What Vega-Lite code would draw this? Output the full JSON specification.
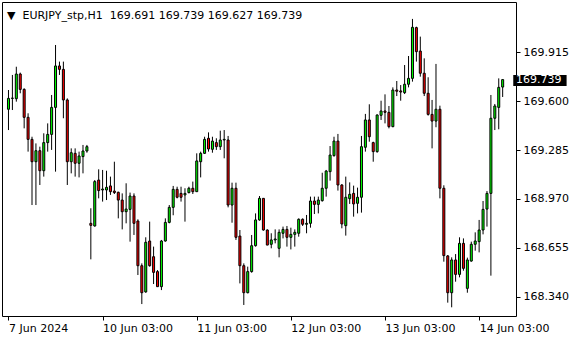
{
  "$schema": "https://vega.github.io/schema/vega-lite/v6.json",
  "width": 514,
  "height": 314,
  "autosize": {"type": "none"},
  "padding": {"left": 2, "top": 2, "right": 64, "bottom": 24},
  "background": "white",
  "config": {
    "view": {"stroke": "black", "strokeWidth": 1},
    "font": "DejaVu Sans",
    "axis": {"labelFont": "DejaVu Sans", "labelFontSize": 11, "labelColor": "black", "tickColor": "black", "domain": false, "grid": false, "labelOverlap": false, "labelFlush": false, "labelBound": false}
  },
  "title": {
    "text": "▼ \u00a0EURJPY_stp,H1 \u00a0169.691 169.739 169.627 169.739",
    "anchor": "start",
    "frame": "group",
    "orient": "top",
    "baseline": "alphabetic",
    "offset": -15,
    "dy": 13,
    "dx": 5,
    "font": "DejaVu Sans",
    "fontSize": 11,
    "fontWeight": "normal",
    "color": "black"
  },
  "data": {
    "values": [
      {"i":0,"o":169.548,"h":169.672,"l":169.414,"c":169.618},
      {"i":1,"o":169.618,"h":169.769,"l":169.543,"c":169.620},
      {"i":2,"o":169.616,"h":169.822,"l":169.597,"c":169.775},
      {"i":3,"o":169.775,"h":169.784,"l":169.651,"c":169.676},
      {"i":4,"o":169.676,"h":169.683,"l":169.425,"c":169.496},
      {"i":5,"o":169.496,"h":169.522,"l":169.275,"c":169.354},
      {"i":6,"o":169.354,"h":169.371,"l":168.931,"c":169.210},
      {"i":7,"o":169.210,"h":169.328,"l":168.931,"c":169.281},
      {"i":8,"o":169.281,"h":169.307,"l":169.060,"c":169.152},
      {"i":9,"o":169.152,"h":169.393,"l":169.114,"c":169.333},
      {"i":10,"o":169.333,"h":169.457,"l":169.275,"c":169.386},
      {"i":11,"o":169.386,"h":169.640,"l":169.286,"c":169.560},
      {"i":12,"o":169.560,"h":169.962,"l":169.146,"c":169.827},
      {"i":13,"o":169.827,"h":169.855,"l":169.769,"c":169.805},
      {"i":14,"o":169.805,"h":169.855,"l":169.490,"c":169.608},
      {"i":15,"o":169.608,"h":169.618,"l":169.060,"c":169.210},
      {"i":16,"o":169.210,"h":169.296,"l":169.135,"c":169.268},
      {"i":17,"o":169.264,"h":169.296,"l":169.114,"c":169.200},
      {"i":18,"o":169.200,"h":169.275,"l":169.109,"c":169.247},
      {"i":19,"o":169.243,"h":169.318,"l":169.135,"c":169.279},
      {"i":20,"o":169.279,"h":169.318,"l":169.268,"c":169.307},
      {"i":21,"o":168.813,"h":168.910,"l":168.581,"c":168.800},
      {"i":22,"o":168.796,"h":169.092,"l":168.792,"c":169.082},
      {"i":23,"o":169.092,"h":169.161,"l":168.974,"c":169.024},
      {"i":24,"o":169.028,"h":169.157,"l":168.953,"c":169.034},
      {"i":25,"o":169.028,"h":169.152,"l":168.963,"c":169.045},
      {"i":26,"o":169.054,"h":169.114,"l":168.996,"c":169.017},
      {"i":27,"o":169.021,"h":169.210,"l":169.002,"c":169.011},
      {"i":28,"o":169.013,"h":169.017,"l":168.845,"c":168.963},
      {"i":29,"o":168.963,"h":169.006,"l":168.774,"c":168.888},
      {"i":30,"o":168.888,"h":169.071,"l":168.813,"c":168.905},
      {"i":31,"o":168.903,"h":169.011,"l":168.695,"c":168.989},
      {"i":32,"o":168.989,"h":169.006,"l":168.738,"c":168.813},
      {"i":33,"o":168.828,"h":168.839,"l":168.480,"c":168.540},
      {"i":34,"o":168.540,"h":168.555,"l":168.293,"c":168.366},
      {"i":35,"o":168.371,"h":168.723,"l":168.366,"c":168.691},
      {"i":36,"o":168.699,"h":168.824,"l":168.534,"c":168.540},
      {"i":37,"o":168.598,"h":168.663,"l":168.422,"c":168.497},
      {"i":38,"o":168.502,"h":168.512,"l":168.405,"c":168.405},
      {"i":39,"o":168.405,"h":168.706,"l":168.383,"c":168.699},
      {"i":40,"o":168.699,"h":168.845,"l":168.695,"c":168.819},
      {"i":41,"o":168.819,"h":168.931,"l":168.813,"c":168.916},
      {"i":42,"o":168.916,"h":169.054,"l":168.865,"c":169.032},
      {"i":43,"o":169.032,"h":169.049,"l":168.974,"c":168.981},
      {"i":44,"o":169.006,"h":169.049,"l":168.953,"c":168.981},
      {"i":45,"o":168.996,"h":169.039,"l":168.824,"c":169.006},
      {"i":46,"o":169.011,"h":169.049,"l":169.006,"c":169.039},
      {"i":47,"o":169.039,"h":169.082,"l":169.002,"c":169.017},
      {"i":48,"o":169.017,"h":169.264,"l":169.017,"c":169.215},
      {"i":49,"o":169.210,"h":169.275,"l":169.109,"c":169.264},
      {"i":50,"o":169.264,"h":169.371,"l":169.260,"c":169.354},
      {"i":51,"o":169.361,"h":169.399,"l":169.275,"c":169.292},
      {"i":52,"o":169.290,"h":169.371,"l":169.268,"c":169.343},
      {"i":53,"o":169.333,"h":169.361,"l":169.286,"c":169.307},
      {"i":54,"o":169.307,"h":169.410,"l":169.286,"c":169.350},
      {"i":55,"o":169.350,"h":169.414,"l":169.232,"c":169.354},
      {"i":56,"o":169.350,"h":169.376,"l":168.916,"c":168.931},
      {"i":57,"o":168.931,"h":169.075,"l":168.817,"c":169.039},
      {"i":58,"o":169.039,"h":169.075,"l":168.706,"c":168.723},
      {"i":59,"o":168.731,"h":168.770,"l":168.426,"c":168.540},
      {"i":60,"o":168.540,"h":168.555,"l":168.287,"c":168.366},
      {"i":61,"o":168.366,"h":168.534,"l":168.362,"c":168.502},
      {"i":62,"o":168.502,"h":168.738,"l":168.495,"c":168.669},
      {"i":63,"o":168.669,"h":168.877,"l":168.663,"c":168.835},
      {"i":64,"o":168.835,"h":168.989,"l":168.830,"c":168.974},
      {"i":65,"o":168.974,"h":168.974,"l":168.766,"c":168.770},
      {"i":66,"o":168.770,"h":168.774,"l":168.673,"c":168.673},
      {"i":67,"o":168.678,"h":168.749,"l":168.652,"c":168.706},
      {"i":68,"o":168.706,"h":168.774,"l":168.684,"c":168.712},
      {"i":69,"o":168.652,"h":168.774,"l":168.594,"c":168.755},
      {"i":70,"o":168.749,"h":168.792,"l":168.716,"c":168.774},
      {"i":71,"o":168.774,"h":168.796,"l":168.663,"c":168.723},
      {"i":72,"o":168.723,"h":168.785,"l":168.645,"c":168.742},
      {"i":73,"o":168.742,"h":168.774,"l":168.663,"c":168.755},
      {"i":74,"o":168.749,"h":168.845,"l":168.727,"c":168.839},
      {"i":75,"o":168.839,"h":168.845,"l":168.796,"c":168.807},
      {"i":76,"o":168.807,"h":168.867,"l":168.749,"c":168.813},
      {"i":77,"o":168.813,"h":168.985,"l":168.785,"c":168.957},
      {"i":78,"o":168.957,"h":168.985,"l":168.873,"c":168.935},
      {"i":79,"o":168.935,"h":168.985,"l":168.877,"c":168.963},
      {"i":80,"o":168.959,"h":169.139,"l":168.953,"c":169.039},
      {"i":81,"o":169.039,"h":169.157,"l":168.985,"c":169.150},
      {"i":82,"o":169.146,"h":169.311,"l":169.088,"c":169.253},
      {"i":83,"o":169.249,"h":169.371,"l":169.243,"c":169.343},
      {"i":84,"o":169.343,"h":169.389,"l":169.024,"c":169.060},
      {"i":85,"o":169.060,"h":169.066,"l":168.781,"c":168.809},
      {"i":86,"o":168.798,"h":169.114,"l":168.734,"c":168.981},
      {"i":87,"o":168.972,"h":169.077,"l":168.938,"c":169.000},
      {"i":88,"o":169.006,"h":169.056,"l":168.856,"c":168.938},
      {"i":89,"o":168.942,"h":169.043,"l":168.877,"c":168.981},
      {"i":90,"o":168.981,"h":169.376,"l":168.882,"c":169.307},
      {"i":91,"o":169.303,"h":169.518,"l":169.275,"c":169.479},
      {"i":92,"o":169.479,"h":169.580,"l":169.339,"c":169.371},
      {"i":93,"o":169.333,"h":169.339,"l":169.210,"c":169.275},
      {"i":94,"o":169.275,"h":169.515,"l":169.268,"c":169.511},
      {"i":95,"o":169.509,"h":169.603,"l":169.479,"c":169.537},
      {"i":96,"o":169.537,"h":169.644,"l":169.457,"c":169.528},
      {"i":97,"o":169.528,"h":169.569,"l":169.425,"c":169.436},
      {"i":98,"o":169.436,"h":169.689,"l":169.432,"c":169.672},
      {"i":99,"o":169.672,"h":169.730,"l":169.633,"c":169.664},
      {"i":100,"o":169.666,"h":169.704,"l":169.603,"c":169.659},
      {"i":101,"o":169.655,"h":169.833,"l":169.646,"c":169.709},
      {"i":102,"o":169.709,"h":169.891,"l":169.689,"c":169.747},
      {"i":103,"o":169.747,"h":170.130,"l":169.726,"c":170.076},
      {"i":104,"o":170.074,"h":170.080,"l":169.855,"c":169.919},
      {"i":105,"o":169.923,"h":170.016,"l":169.758,"c":169.780},
      {"i":106,"o":169.780,"h":169.876,"l":169.633,"c":169.651},
      {"i":107,"o":169.651,"h":169.754,"l":169.507,"c":169.515},
      {"i":108,"o":169.515,"h":169.608,"l":169.296,"c":169.472},
      {"i":109,"o":169.472,"h":169.840,"l":169.432,"c":169.548},
      {"i":110,"o":169.548,"h":169.571,"l":168.974,"c":169.039},
      {"i":111,"o":169.039,"h":169.058,"l":168.566,"c":168.605},
      {"i":112,"o":168.603,"h":168.609,"l":168.302,"c":168.366},
      {"i":113,"o":168.366,"h":168.594,"l":168.272,"c":168.577},
      {"i":114,"o":168.577,"h":168.615,"l":168.437,"c":168.484},
      {"i":115,"o":168.484,"h":168.723,"l":168.465,"c":168.684},
      {"i":116,"o":168.684,"h":168.716,"l":168.508,"c":168.523},
      {"i":117,"o":168.394,"h":168.592,"l":168.366,"c":168.577},
      {"i":118,"o":168.570,"h":168.695,"l":168.566,"c":168.678},
      {"i":119,"o":168.678,"h":168.755,"l":168.637,"c":168.699},
      {"i":120,"o":168.695,"h":168.835,"l":168.626,"c":168.770},
      {"i":121,"o":168.770,"h":168.957,"l":168.742,"c":168.903},
      {"i":122,"o":168.905,"h":169.021,"l":168.792,"c":169.006},
      {"i":123,"o":169.006,"h":169.640,"l":168.476,"c":169.490},
      {"i":124,"o":169.490,"h":169.582,"l":169.414,"c":169.569},
      {"i":125,"o":169.560,"h":169.747,"l":169.419,"c":169.689},
      {"i":126,"o":169.691,"h":169.739,"l":169.627,"c":169.739}
    ]
  },
  "layer": [
    {
      "mark": {"type": "rule", "color": "black", "strokeWidth": 1},
      "encoding": {
        "x": {
          "field": "i",
          "type": "quantitative",
          "title": null,
          "scale": {"domain": [-0.375, 128.125], "nice": false, "zero": false},
          "axis": {
            "orient": "bottom",
            "values": [0, 24, 48, 72, 96, 120],
            "labelExpr": "['7 Jun 2024','10 Jun 03:00','11 Jun 03:00','12 Jun 03:00','13 Jun 03:00','14 Jun 03:00'][round(datum.value/24)]",
            "tickSize": 4,
            "labelAlign": "left",
            "labelBaseline": "top",
            "labelPadding": 2
          }
        },
        "y": {
          "field": "l",
          "type": "quantitative",
          "title": null,
          "scale": {"domain": [168.216, 170.239], "nice": false, "zero": false},
          "axis": {
            "orient": "right",
            "values": [168.34, 168.655, 168.97, 169.285, 169.6, 169.915],
            "format": ".3f",
            "tickSize": 4,
            "labelPadding": 3
          }
        },
        "y2": {"field": "h"}
      }
    },
    {
      "mark": {"type": "bar", "size": 2, "stroke": "black", "strokeWidth": 1},
      "encoding": {
        "x": {"field": "i", "type": "quantitative", "title": null},
        "y": {"field": "o", "type": "quantitative", "title": null},
        "y2": {"field": "c"},
        "fill": {
          "condition": {"test": "datum.c >= datum.o", "value": "#00FF00"},
          "value": "#FF0000"
        }
      }
    },
    {
      "data": {"values": [{"price": 169.739, "label": "169.739"}]},
      "mark": {"type": "rect", "fill": "black", "clip": false},
      "encoding": {
        "x": {"datum": 128.7, "type": "quantitative", "title": null},
        "x2": {"datum": 142.3},
        "y": {"datum": 169.769, "type": "quantitative", "title": null},
        "y2": {"datum": 169.698}
      }
    },
    {
      "data": {"values": [{"price": 169.739, "label": "169.739"}]},
      "mark": {"type": "text", "color": "white", "font": "DejaVu Sans", "fontSize": 11, "align": "left", "baseline": "middle", "clip": false},
      "encoding": {
        "x": {"datum": 129.4, "type": "quantitative", "title": null},
        "y": {"field": "price", "type": "quantitative", "title": null},
        "text": {"field": "label"}
      }
    }
  ]
}
